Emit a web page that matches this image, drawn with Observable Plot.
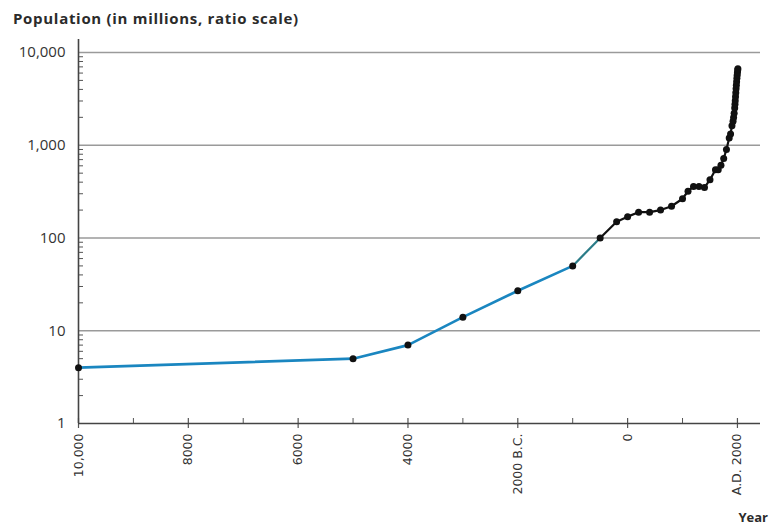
<!DOCTYPE html>
<html>
<head>
<meta charset="utf-8">
<script src="https://cdn.jsdelivr.net/npm/d3@7"></script>
<script src="https://cdn.jsdelivr.net/npm/@observablehq/plot@0.6"></script>
<style>
  body { margin: 0; background: #fff; }
  #chart { position: relative; width: 772px; height: 528px; }
  #chart svg { position: absolute; left: 0; top: 0; }
  #title { position: absolute; left: 13px; top: 8px; font: bold 15px "Open Sans", sans-serif; letter-spacing: 0.7px; color: #2b2b2b; white-space: nowrap; }
  #xlabel { position: absolute; right: 4px; top: 508px; font: bold 13px "Open Sans", sans-serif; color: #2b2b2b; }
</style>
</head>
<body>
<div id="chart">
  <div id="title">Population (in millions, ratio scale)</div>
  <div id="xlabel">Year</div>
</div>
<script>
// World population estimates, in millions (negative years are B.C.)
const years = [
  -10000, -5000, -4000, -3000, -2000, -1000, -500, -200, 0, 200, 400, 600, 800,
  1000, 1100, 1200, 1300, 1400, 1500, 1600, 1650, 1700, 1750, 1800,
  1850, 1875, 1900, 1920, 1930, 1940, 1950, 1955, 1960, 1965, 1970, 1975, 1980,
  1985, 1990, 1995, 2000, 2005, 2008
];
const population = [
  4, 5, 7, 14, 27, 50, 100, 150, 170, 190, 190, 200, 220,
  265, 320, 360, 360, 350, 425, 545, 545, 610, 720, 900,
  1200, 1325, 1625, 1813, 1987, 2213, 2520, 2760, 3020, 3340, 3690, 4070, 4440,
  4850, 5290, 5700, 6090, 6470, 6700
];

// Axis ticks and their labels
const yTicks = [1, 10, 100, 1000, 10000];
const yTickLabels = ["1", "10", "100", "1,000", "10,000"];
const yMinorSteps = [2, 3, 4, 5, 6, 7, 8, 9];
const xTicks = [-10000, -8000, -6000, -4000, -2000, 0, 2000];
const xTickLabels = ["10,000", "8000", "6000", "4000", "2000 B.C.", "0", "A.D. 2000"];
const xMinorTicks = [-9000, -7000, -5000, -3000, -1000, 1000];

const rows = years.map((year, i) => ({year, pop: population[i]}));
const early = rows.filter(d => d.year <= -1000);
const bridge = rows.filter(d => d.year >= -1000 && d.year <= -500);
const late = rows.filter(d => d.year >= -500);

const yMinor = [];
for (const decade of yTicks.slice(0, -1)) for (const s of yMinorSteps) yMinor.push(decade * s);

const W = 772, H = 528, mL = 78, mR = 12, mT = 52, mB = 105;
const frameW = W - mL - mR, frameH = H - mT - mB;

const chart = Plot.plot({
  width: W,
  height: H,
  marginLeft: mL,
  marginRight: mR,
  marginTop: mT,
  marginBottom: mB,
  style: {background: "transparent", fontFamily: "DejaVu Sans", color: "#333"},
  x: {domain: [-10000, 2420]},
  y: {type: "log", domain: [1, 10000]},
  marks: [
    // horizontal grid at each power of ten
    Plot.ruleY(yTicks.slice(1), {stroke: "#9a9a9a", strokeWidth: 1.6}),
    // minor ticks on the ratio scale
    Plot.ruleY(yMinor, {stroke: "#555", strokeWidth: 1, insetRight: frameW - 5}),
    // year ticks along the base
    Plot.ruleX(xMinorTicks, {stroke: "#555", strokeWidth: 1, insetTop: frameH - 5}),
    Plot.ruleX(xTicks, {stroke: "#555", strokeWidth: 1.2, insetTop: frameH - 5, insetBottom: -5}),
    // axis lines
    Plot.ruleY([1], {stroke: "#444", strokeWidth: 1.6}),
    Plot.ruleX([-10000], {stroke: "#444", strokeWidth: 1.6, insetTop: -13}),
    Plot.axisY({
      ticks: yTicks,
      tickFormat: d => yTickLabels[yTicks.indexOf(d)],
      tickSize: 0,
      tickPadding: 13,
      fontSize: 15,
      fontWeight: 500,
      fontFamily: "Open Sans",
      fill: "#333",
      label: null
    }),
    Plot.axisX({
      ticks: xTicks,
      tickFormat: d => xTickLabels[xTicks.indexOf(d)],
      tickSize: 0,
      tickPadding: 10,
      tickRotate: -90,
      fontSize: 12.5,
      fontFamily: "DejaVu Sans",
      fill: "#333",
      label: null
    }),
    // population path
    Plot.line(early, {x: "year", y: "pop", stroke: "#1a86c0", strokeWidth: 2.6}),
    Plot.line(bridge, {x: "year", y: "pop", stroke: "#2b7c88", strokeWidth: 2.2}),
    Plot.line(late, {x: "year", y: "pop", stroke: "#111", strokeWidth: 2.2}),
    Plot.dot(rows, {x: "year", y: "pop", r: 3.5, fill: "#111"})
  ]
});

document.getElementById("chart").prepend(chart);
</script>
</body>
</html>
